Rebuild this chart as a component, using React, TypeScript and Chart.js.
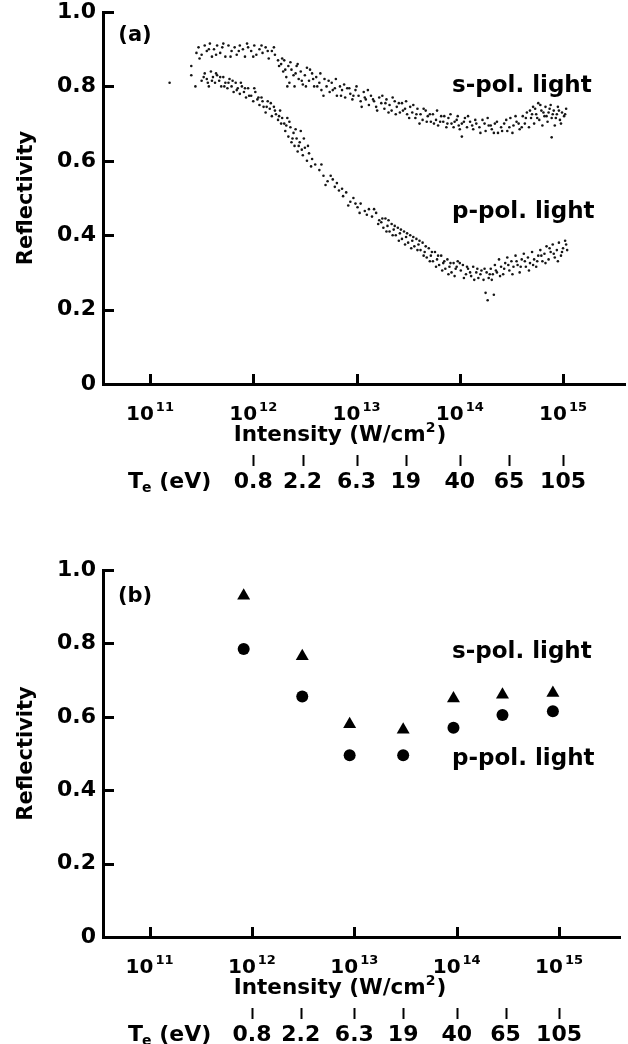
import React, { useEffect, useRef } from 'react';
import { Chart, registerables } from 'chart.js';
Chart.register(...registerables);

const FAMILY = "'DejaVu Sans', 'Liberation Sans', sans-serif";
const CANVAS_W = 628;
const CANVAS_H = 522;

// Panel (a): scatter bands, [log10 intensity (W/cm2), reflectivity]
const sPolA: [number, number][] = [
  [11.19, 0.81], [11.40, 0.855], [11.44, 0.80], [11.45, 0.89], [11.47, 0.905],
  [11.50, 0.885], [11.53, 0.91], [11.55, 0.895], [11.58, 0.915], [11.60, 0.88], [11.62, 0.90], [11.65, 0.91],
  [11.68, 0.89], [11.70, 0.905], [11.73, 0.88], [11.76, 0.91], [11.79, 0.895], [11.82, 0.905], [11.84, 0.885],
  [11.87, 0.91], [11.90, 0.90], [11.92, 0.88], [11.95, 0.905], [11.98, 0.895], [12.01, 0.91], [12.03, 0.885],
  [12.06, 0.90], [12.09, 0.89], [12.12, 0.905], [12.15, 0.875], [12.18, 0.895], [12.21, 0.885], [12.24, 0.87],
  [12.27, 0.86], [12.29, 0.84], [12.30, 0.87], [12.32, 0.825], [12.34, 0.855], [12.35, 0.81], [12.37, 0.845],
  [12.39, 0.83], [12.40, 0.80], [12.42, 0.855], [12.44, 0.82], [12.46, 0.84], [12.48, 0.805], [12.50, 0.83],
  [12.52, 0.85], [12.54, 0.815], [12.57, 0.835], [12.59, 0.80],
  [12.61, 0.825], [12.64, 0.81], [12.66, 0.79], [12.69, 0.82], [12.71, 0.80], [12.74, 0.785], [12.76, 0.81],
  [12.79, 0.795], [12.81, 0.775], [12.84, 0.80], [12.86, 0.79], [12.89, 0.77], [12.91, 0.795], [12.94, 0.78],
  [12.96, 0.765], [12.99, 0.79],
  [13.02, 0.775], [13.04, 0.76], [13.07, 0.785], [13.09, 0.765], [13.12, 0.75], [13.14, 0.775], [13.17, 0.76],
  [13.19, 0.745], [13.22, 0.77], [13.24, 0.755], [13.27, 0.74], [13.29, 0.765], [13.32, 0.75], [13.34, 0.735],
  [13.37, 0.76], [13.39, 0.745], [13.42, 0.73], [13.44, 0.755], [13.47, 0.74], [13.49, 0.725],
  [13.52, 0.745], [13.54, 0.73], [13.57, 0.715], [13.59, 0.74], [13.62, 0.725], [13.64, 0.71], [13.67, 0.735],
  [13.69, 0.72], [13.72, 0.705], [13.74, 0.725], [13.77, 0.71], [13.79, 0.695], [13.82, 0.72], [13.84, 0.705],
  [13.87, 0.69], [13.89, 0.715], [13.92, 0.70], [13.94, 0.69], [13.97, 0.71], [13.99, 0.695],
  [14.02, 0.70], [14.02, 0.665], [14.05, 0.715], [14.07, 0.69], [14.10, 0.705], [14.13, 0.685], [14.16, 0.70],
  [14.19, 0.69], [14.22, 0.71], [14.25, 0.68], [14.28, 0.695], [14.31, 0.685], [14.34, 0.70], [14.37, 0.675],
  [14.40, 0.69], [14.43, 0.70], [14.46, 0.68], [14.49, 0.715], [14.52, 0.695], [14.55, 0.705], [14.58, 0.685],
  [14.61, 0.72], [14.63, 0.70], [14.65, 0.73], [14.67, 0.69], [14.69, 0.715], [14.71, 0.745], [14.72, 0.70],
  [14.74, 0.725], [14.76, 0.755], [14.77, 0.71], [14.79, 0.735], [14.80, 0.695], [14.82, 0.72], [14.83, 0.745],
  [14.85, 0.705], [14.86, 0.73], [14.88, 0.75], [14.89, 0.715], [14.89, 0.663], [14.91, 0.735], [14.92, 0.695],
  [14.94, 0.725], [14.95, 0.745], [14.97, 0.71], [14.99, 0.73], [15.01, 0.72], [15.03, 0.74],
  // second pass of dots read from the cloud
  [11.48, 0.875], [11.57, 0.90], [11.64, 0.885], [11.71, 0.915], [11.78, 0.88], [11.86, 0.895], [11.94, 0.915],
  [12.00, 0.88], [12.08, 0.91], [12.14, 0.895], [12.20, 0.905], [12.25, 0.855], [12.28, 0.875], [12.31, 0.845],
  [12.33, 0.80], [12.36, 0.865], [12.41, 0.835], [12.43, 0.86], [12.47, 0.815], [12.51, 0.80], [12.55, 0.845],
  [12.58, 0.82], [12.62, 0.80], [12.65, 0.835], [12.68, 0.775], [12.73, 0.815], [12.77, 0.79], [12.80, 0.82],
  [12.85, 0.775], [12.88, 0.805], [12.93, 0.795], [12.97, 0.775], [13.00, 0.80], [13.05, 0.745], [13.08, 0.77],
  [13.11, 0.79], [13.16, 0.765], [13.20, 0.735], [13.25, 0.775], [13.28, 0.755], [13.31, 0.73], [13.35, 0.77],
  [13.38, 0.725], [13.41, 0.755], [13.45, 0.735], [13.48, 0.76], [13.51, 0.715], [13.55, 0.75], [13.58, 0.725],
  [13.61, 0.70], [13.65, 0.74], [13.68, 0.705], [13.71, 0.725], [13.75, 0.70], [13.78, 0.735], [13.81, 0.705],
  [13.85, 0.72], [13.88, 0.70], [13.91, 0.725], [13.95, 0.705], [13.98, 0.72], [14.00, 0.685], [14.04, 0.705],
  [14.08, 0.72], [14.12, 0.695], [14.15, 0.71], [14.20, 0.675], [14.24, 0.70], [14.27, 0.715], [14.30, 0.695],
  [14.33, 0.675], [14.36, 0.705], [14.41, 0.68], [14.45, 0.71], [14.48, 0.69], [14.51, 0.675], [14.54, 0.72],
  [14.57, 0.70], [14.60, 0.69], [14.64, 0.715], [14.68, 0.735], [14.70, 0.725], [14.73, 0.74], [14.75, 0.715],
  [14.78, 0.75], [14.81, 0.73], [14.84, 0.72], [14.87, 0.74], [14.90, 0.725], [14.93, 0.715], [14.96, 0.735],
  [14.98, 0.70], [15.02, 0.725],
];

const pPolA: [number, number][] = [
  [11.40, 0.83], [11.50, 0.815], [11.53, 0.835], [11.55, 0.82], [11.57, 0.80], [11.59, 0.84], [11.61, 0.825],
  [11.63, 0.81], [11.65, 0.83], [11.67, 0.815], [11.69, 0.80], [11.71, 0.825], [11.73, 0.81], [11.75, 0.795],
  [11.77, 0.82], [11.79, 0.80], [11.81, 0.785], [11.83, 0.81], [11.85, 0.795], [11.87, 0.78], [11.89, 0.80],
  [11.91, 0.785], [11.93, 0.77], [11.95, 0.795],
  [11.98, 0.775], [12.00, 0.76], [12.02, 0.785], [12.04, 0.765], [12.06, 0.75], [12.08, 0.77], [12.10, 0.745],
  [12.12, 0.73], [12.14, 0.76], [12.16, 0.74], [12.18, 0.72], [12.20, 0.745], [12.22, 0.725], [12.24, 0.71],
  [12.26, 0.735], [12.28, 0.715],
  [12.30, 0.70], [12.31, 0.68], [12.33, 0.715], [12.34, 0.665], [12.36, 0.69], [12.37, 0.65], [12.39, 0.675],
  [12.40, 0.64], [12.42, 0.66], [12.43, 0.625], [12.45, 0.65], [12.46, 0.68], [12.48, 0.615], [12.50, 0.635],
  [12.52, 0.60], [12.54, 0.62], [12.57, 0.605], [12.60, 0.59],
  [12.64, 0.575], [12.68, 0.56], [12.72, 0.545], [12.75, 0.56], [12.79, 0.53], [12.83, 0.52],
  [12.87, 0.505], [12.90, 0.515], [12.94, 0.49], [12.97, 0.50], [13.01, 0.475], [13.04, 0.485], [13.08, 0.465],
  [13.12, 0.47], [13.15, 0.45], [13.19, 0.46], [13.22, 0.44],
  [13.24, 0.435], [13.26, 0.42], [13.28, 0.445], [13.30, 0.425], [13.32, 0.41], [13.34, 0.43], [13.36, 0.415],
  [13.38, 0.40], [13.40, 0.42], [13.42, 0.405], [13.44, 0.39], [13.46, 0.41], [13.48, 0.395], [13.50, 0.38],
  [13.52, 0.40], [13.54, 0.385], [13.56, 0.37], [13.58, 0.39], [13.60, 0.375],
  [13.62, 0.36], [13.64, 0.38], [13.66, 0.355], [13.68, 0.34], [13.70, 0.365], [13.72, 0.345], [13.74, 0.33],
  [13.76, 0.355], [13.78, 0.335], [13.80, 0.32], [13.82, 0.345], [13.84, 0.325], [13.86, 0.31], [13.88, 0.335],
  [13.90, 0.315], [13.92, 0.30], [13.94, 0.325], [13.96, 0.31], [13.98, 0.33],
  [14.01, 0.305], [14.03, 0.32], [14.06, 0.295], [14.08, 0.31], [14.11, 0.29], [14.13, 0.315], [14.16, 0.30],
  [14.18, 0.285], [14.21, 0.305], [14.23, 0.28], [14.25, 0.245], [14.26, 0.30], [14.27, 0.225], [14.28, 0.285],
  [14.30, 0.31], [14.32, 0.295], [14.33, 0.24], [14.34, 0.32], [14.36, 0.30], [14.38, 0.335], [14.40, 0.315],
  [14.42, 0.295], [14.44, 0.325], [14.46, 0.34], [14.48, 0.305], [14.50, 0.33], [14.52, 0.315], [14.54, 0.345],
  [14.56, 0.32], [14.58, 0.30], [14.60, 0.335], [14.62, 0.35], [14.64, 0.315], [14.66, 0.34],
  [14.68, 0.325], [14.70, 0.355], [14.72, 0.335], [14.74, 0.315], [14.76, 0.345], [14.78, 0.36], [14.80, 0.33],
  [14.82, 0.35], [14.84, 0.37], [14.86, 0.335], [14.88, 0.355], [14.90, 0.375], [14.92, 0.34], [14.94, 0.36],
  [14.96, 0.38], [14.98, 0.345], [15.00, 0.365], [15.02, 0.385], [15.04, 0.36],
  // second pass of dots read from the cloud
  [11.52, 0.825], [11.56, 0.81], [11.60, 0.815], [11.64, 0.835], [11.68, 0.825], [11.72, 0.80], [11.76, 0.81],
  [11.80, 0.815], [11.84, 0.79], [11.88, 0.81], [11.92, 0.795], [11.96, 0.775], [12.01, 0.795], [12.05, 0.77],
  [12.09, 0.76], [12.13, 0.745], [12.17, 0.755], [12.21, 0.735], [12.25, 0.72], [12.27, 0.70], [12.32, 0.695],
  [12.35, 0.705], [12.38, 0.66], [12.41, 0.685], [12.44, 0.64], [12.47, 0.63], [12.49, 0.66], [12.53, 0.64],
  [12.56, 0.585], [12.66, 0.59], [12.70, 0.535], [12.77, 0.55], [12.81, 0.54], [12.86, 0.525], [12.92, 0.48],
  [12.99, 0.485], [13.03, 0.46], [13.10, 0.455], [13.17, 0.47], [13.21, 0.43], [13.25, 0.445], [13.29, 0.41],
  [13.31, 0.44], [13.35, 0.40], [13.37, 0.425], [13.41, 0.385], [13.43, 0.415], [13.47, 0.375], [13.49, 0.405],
  [13.53, 0.365], [13.55, 0.395], [13.59, 0.36], [13.61, 0.385], [13.65, 0.345], [13.67, 0.37], [13.71, 0.33],
  [13.73, 0.355], [13.77, 0.315], [13.79, 0.345], [13.83, 0.305], [13.85, 0.33], [13.89, 0.295], [13.91, 0.325],
  [13.95, 0.29], [13.97, 0.315], [14.00, 0.325], [14.04, 0.285], [14.07, 0.315], [14.10, 0.30], [14.14, 0.28],
  [14.17, 0.31], [14.20, 0.295], [14.24, 0.31], [14.29, 0.295], [14.31, 0.28], [14.35, 0.305], [14.39, 0.29],
  [14.43, 0.31], [14.47, 0.32], [14.51, 0.295], [14.55, 0.33], [14.59, 0.315], [14.63, 0.33], [14.67, 0.305],
  [14.71, 0.32], [14.75, 0.33], [14.79, 0.345], [14.83, 0.325], [14.87, 0.365], [14.91, 0.35], [14.95, 0.33],
  [14.99, 0.355], [15.03, 0.375],
];

// Panel (b): discrete measurements
const bIntensity = [8.3e11, 3.1e12, 9.0e12, 3.0e13, 9.3e13, 2.8e14, 8.7e14];
const bSPol = [0.93, 0.765, 0.58, 0.565, 0.65, 0.66, 0.665];
const bPPol = [0.785, 0.655, 0.495, 0.495, 0.57, 0.605, 0.615];

// Axes
const yTicks = [0, 0.2, 0.4, 0.6, 0.8, 1.0];
const xTickExp = [11, 12, 13, 14, 15];
const xMinExp = 10.545;
const xMaxExp = 15.6;
const teLabels = ['0.8', '2.2', '6.3', '19', '40', '65', '105'];
const teIntensity = [1e12, 3e12, 1e13, 3e13, 1e14, 3e14, 1e15];

type Panel = {
  tag: string;
  top: number;
  bottom: number;
  sLabelY: number;
  pLabelY: number;
  tagY: number;
  datasets: any[];
};

const bold = (size: number) => `bold ${size}px ${FAMILY}`;

function makeDecor(p: Panel) {
  return {
    id: 'decor',
    afterDraw(chart: any) {
      const { ctx, chartArea } = chart;
      const xs = chart.scales.x;
      const ys = chart.scales.y;
      const left = chartArea.left;
      const bottom = chartArea.bottom;
      ctx.save();
      ctx.fillStyle = '#000';
      ctx.strokeStyle = '#000';
      ctx.lineCap = 'butt';
      // inward ticks
      ctx.lineWidth = 3;
      for (const v of yTicks) {
        if (v === 0) continue;
        const py = Math.round(ys.getPixelForValue(v)) + 0.5;
        ctx.beginPath();
        ctx.moveTo(left, py);
        ctx.lineTo(left + 11, py);
        ctx.stroke();
      }
      for (const e of xTickExp) {
        const px = Math.round(xs.getPixelForValue(Math.pow(10, e))) + 0.5;
        ctx.beginPath();
        ctx.moveTo(px, bottom);
        ctx.lineTo(px, bottom - 10);
        ctx.stroke();
      }
      // x tick labels 10^n
      ctx.textBaseline = 'alphabetic';
      ctx.textAlign = 'left';
      for (const e of xTickExp) {
        const px = xs.getPixelForValue(Math.pow(10, e));
        ctx.font = bold(20);
        const w10 = ctx.measureText('10').width;
        ctx.font = bold(13);
        const ws = ctx.measureText(String(e)).width;
        const x0 = px - (w10 + 2 + ws) / 2;
        const by = bottom + 36;
        ctx.font = bold(20);
        ctx.fillText('10', x0, by);
        ctx.font = bold(13);
        ctx.fillText(String(e), x0 + w10 + 2, by - 9);
      }
      // axis title
      {
        ctx.font = bold(21.5);
        const a = 'Intensity (W/cm';
        const wa = ctx.measureText(a).width;
        ctx.font = bold(14);
        const w2 = ctx.measureText('2').width;
        ctx.font = bold(21.5);
        const wc = ctx.measureText(')').width;
        const total = wa + w2 + 1 + wc;
        const x0 = 340 - total / 2;
        const by = bottom + 57;
        ctx.fillText(a, x0, by);
        ctx.font = bold(14);
        ctx.fillText('2', x0 + wa, by - 9);
        ctx.font = bold(21.5);
        ctx.fillText(')', x0 + wa + w2 + 1, by);
      }
      // Te row
      {
        const by = bottom + 104;
        let x = 128;
        ctx.font = bold(22);
        ctx.fillText('T', x, by);
        x += ctx.measureText('T').width - 1;
        ctx.font = bold(14);
        ctx.fillText('e', x, by + 4);
        x += ctx.measureText('e').width;
        ctx.font = bold(22);
        ctx.fillText(' (eV)', x, by);
        ctx.textAlign = 'center';
        ctx.lineWidth = 2;
        teLabels.forEach((t, i) => {
          const px = xs.getPixelForValue(teIntensity[i]);
          ctx.fillText(t, px, by);
          const lx = Math.round(px) + 0.5;
          ctx.beginPath();
          ctx.moveTo(lx, bottom + 71);
          ctx.lineTo(lx, bottom + 82);
          ctx.stroke();
        });
        ctx.textAlign = 'left';
      }
      // panel texts
      ctx.textBaseline = 'middle';
      ctx.font = bold(21);
      ctx.textAlign = 'center';
      ctx.fillText(p.tag, 135, p.tagY);
      ctx.textAlign = 'left';
      ctx.font = bold(23);
      ctx.fillText('s-pol. light', 452, p.sLabelY);
      ctx.fillText('p-pol. light', 452, p.pLabelY);
      // y title
      ctx.save();
      ctx.translate(27, (chartArea.top + chartArea.bottom) / 2);
      ctx.rotate(-Math.PI / 2);
      ctx.textAlign = 'center';
      ctx.font = bold(21);
      ctx.fillText('Reflectivity', 0, 0);
      ctx.restore();
      ctx.restore();
    },
  };
}

function makeConfig(p: Panel): any {
  return {
    type: 'scatter',
    data: { datasets: p.datasets },
    options: {
      animation: false,
      responsive: false,
      devicePixelRatio: 1,
      layout: { padding: { top: p.top, right: 3, bottom: 0, left: 0 } },
      plugins: { legend: { display: false }, tooltip: { enabled: false } },
      scales: {
        x: {
          type: 'logarithmic',
          min: Math.pow(10, xMinExp),
          max: Math.pow(10, xMaxExp),
          grid: { display: false, drawTicks: false },
          border: { display: true, color: '#000', width: 3 },
          ticks: { display: false },
          afterFit(s: any) {
            s.height = CANVAS_H - p.bottom;
            s.paddingLeft = 0;
            s.paddingRight = 0;
          },
        },
        y: {
          min: 0,
          max: 1,
          grid: { display: false, drawTicks: false },
          border: { display: true, color: '#000', width: 3 },
          ticks: {
            padding: 7,
            color: '#000',
            font: { family: FAMILY, size: 22, weight: 'bold', lineHeight: 1 },
            callback: (v: any) => (Number(v) === 0 ? '0' : Number(v).toFixed(1)),
          },
          afterBuildTicks(s: any) {
            s.ticks = yTicks.map((v) => ({ value: v }));
          },
          afterFit(s: any) {
            s.width = 103;
            s.paddingTop = 0;
            s.paddingBottom = 0;
          },
        },
      },
    },
    plugins: [makeDecor(p)],
  };
}

const dotStyle = {
  pointRadius: 1.3,
  pointHoverRadius: 1.3,
  backgroundColor: '#151515',
  borderWidth: 0,
};

const panelA: Panel = {
  tag: '(a)',
  top: 12,
  bottom: 384,
  tagY: 36,
  sLabelY: 86,
  pLabelY: 212,
  datasets: [
    { label: 's-pol. light', data: sPolA.map(([e, r]) => ({ x: Math.pow(10, e), y: r })), ...dotStyle },
    { label: 'p-pol. light', data: pPolA.map(([e, r]) => ({ x: Math.pow(10, e), y: r })), ...dotStyle },
  ],
};

const panelB: Panel = {
  tag: '(b)',
  top: 48,
  bottom: 415,
  tagY: 75,
  sLabelY: 130,
  pLabelY: 237,
  datasets: [
    {
      label: 's-pol. light',
      data: bIntensity.map((x, i) => ({ x, y: bSPol[i] })),
      pointStyle: 'triangle',
      pointRadius: 7.5,
      pointHoverRadius: 7.5,
      backgroundColor: '#000',
      borderWidth: 0,
    },
    {
      label: 'p-pol. light',
      data: bIntensity.map((x, i) => ({ x, y: bPPol[i] })),
      pointStyle: 'circle',
      pointRadius: 6,
      pointHoverRadius: 6,
      backgroundColor: '#000',
      borderWidth: 0,
    },
  ],
};

export default function App() {
  const refA = useRef<HTMLCanvasElement>(null);
  const refB = useRef<HTMLCanvasElement>(null);
  useEffect(() => {
    document.body.style.margin = '0';
    const a = new Chart(refA.current as HTMLCanvasElement, makeConfig(panelA));
    const b = new Chart(refB.current as HTMLCanvasElement, makeConfig(panelB));
    return () => {
      a.destroy();
      b.destroy();
    };
  }, []);
  return (
    <div style={{ position: 'relative', width: CANVAS_W, height: 1044, background: '#fff' }}>
      <canvas ref={refA} width={CANVAS_W} height={CANVAS_H} style={{ position: 'absolute', left: 0, top: 0 }} />
      <canvas ref={refB} width={CANVAS_W} height={CANVAS_H} style={{ position: 'absolute', left: 0, top: CANVAS_H }} />
    </div>
  );
}
